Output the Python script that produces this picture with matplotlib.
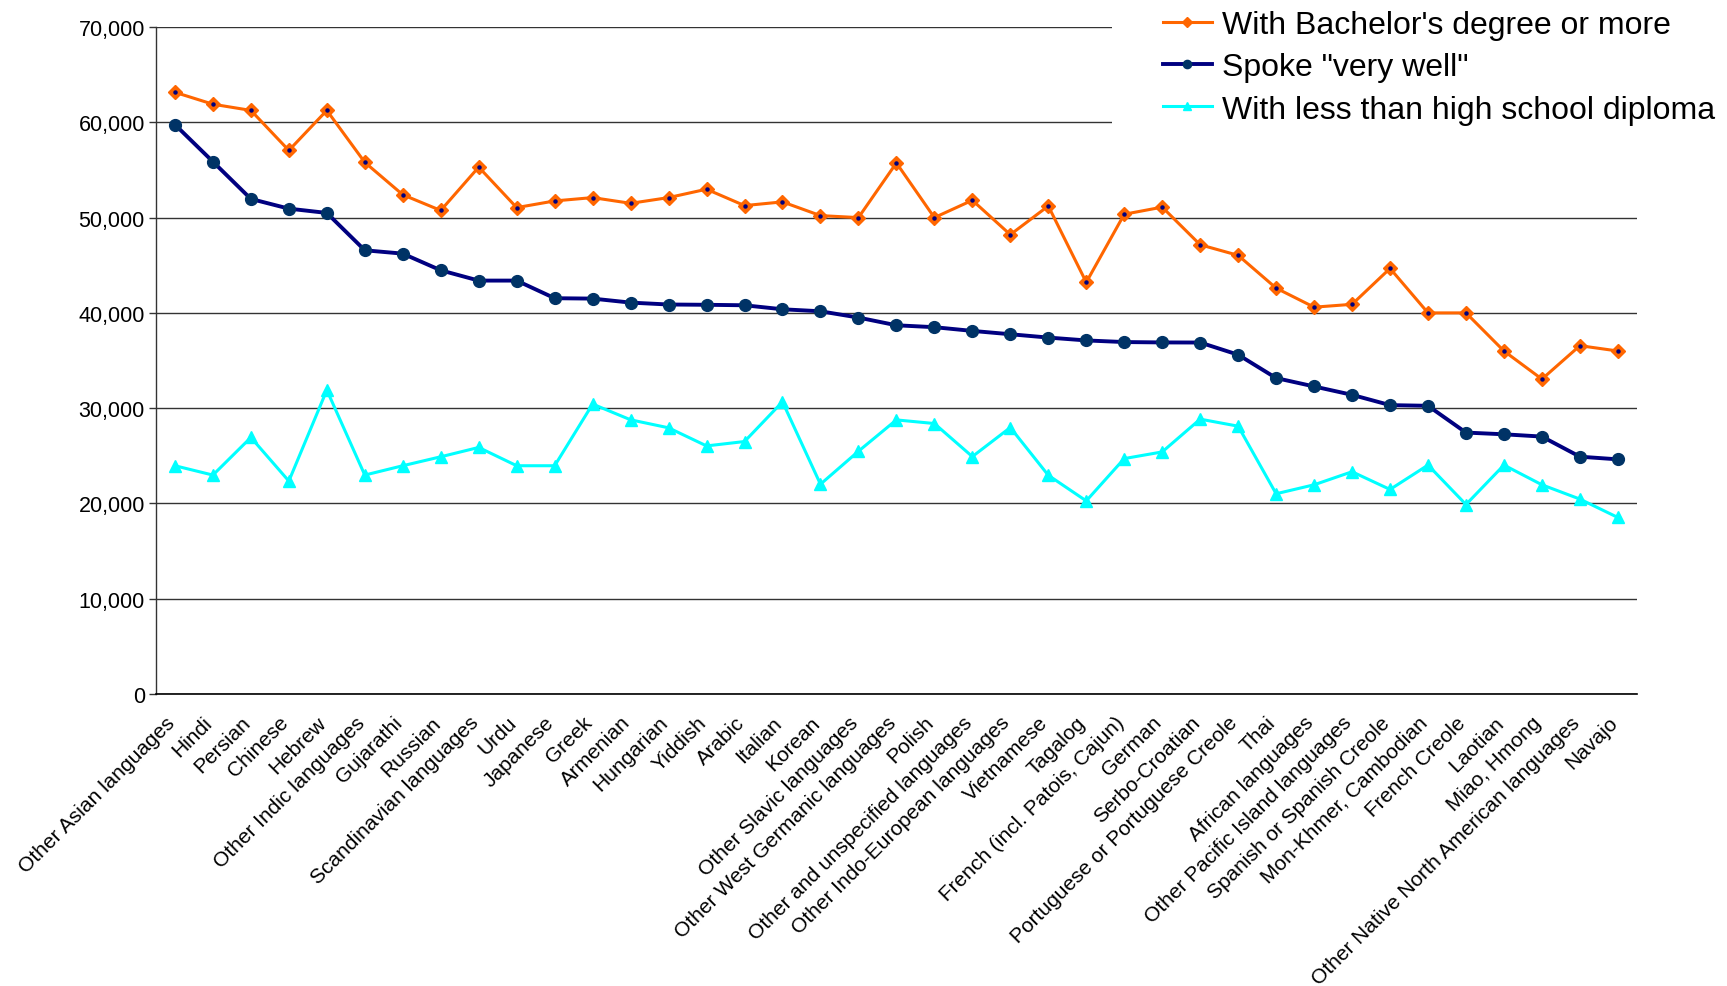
import matplotlib
matplotlib.use("Agg")
import matplotlib.pyplot as plt
from matplotlib.patches import Rectangle
from matplotlib.ticker import FuncFormatter, MultipleLocator
from matplotlib.transforms import ScaledTranslation

plt.rcParams['font.family'] = ['Liberation Sans', 'DejaVu Sans']

languages = [
    "Other Asian languages", "Hindi", "Persian", "Chinese", "Hebrew",
    "Other Indic languages", "Gujarathi", "Russian", "Scandinavian languages",
    "Urdu", "Japanese", "Greek", "Armenian", "Hungarian", "Yiddish", "Arabic",
    "Italian", "Korean", "Other Slavic languages",
    "Other West Germanic languages", "Polish",
    "Other and unspecified languages", "Other Indo-European languages",
    "Vietnamese", "Tagalog", "French (incl. Patois, Cajun)", "German",
    "Serbo-Croatian", "Portuguese or Portuguese Creole", "Thai",
    "African languages", "Other Pacific Island languages",
    "Spanish or Spanish Creole", "Mon-Khmer, Cambodian", "French Creole",
    "Laotian", "Miao, Hmong", "Other Native North American languages", "Navajo",
]

bachelors = [
    63150, 61900, 61250, 57050, 61250, 55800, 52400, 50750, 55300, 51050,
    51750, 52100, 51500, 52100, 52980, 51260, 51650, 50210, 50000, 55740,
    50000, 51820, 48210, 51220, 43210, 50350, 51100, 47150, 46040, 42600,
    40600, 40900, 44670, 40000, 40000, 36000, 33050, 36560, 36000,
]

spoke_very_well = [
    59760, 55870, 51960, 50940, 50490, 46570, 46220, 44470, 43390, 43390,
    41540, 41500, 41080, 40880, 40850, 40800, 40380, 40170, 39510, 38700,
    38500, 38110, 37760, 37410, 37110, 36940, 36900, 36890, 35610, 33160,
    32280, 31400, 30320, 30250, 27440, 27260, 27020, 24910, 24630,
]

less_than_hs = [
    23960, 22980, 26930, 22350, 31900, 22980, 23960, 24900, 25880, 23960,
    23960, 30430, 28780, 27940, 26040, 26500, 30670, 22020, 25480, 28770,
    28390, 24920, 27970, 22960, 20270, 24710, 25410, 28850, 28110, 21020,
    21960, 23330, 21470, 24030, 19890, 24030, 21960, 20460, 18530,
]

series_labels = [
    "With Bachelor's degree or more",
    'Spoke "very well"',
    "With less than high school diploma",
]

fig = plt.figure(figsize=(17.27, 9.87), dpi=100)
ax = fig.add_axes([0.0903, 0.2958, 0.8575, 0.6758])

x = list(range(len(languages)))

l1, = ax.plot(x, bachelors, color="#FF6600", lw=2.2, marker="D", ms=7,
              mfc="#FF6600", mec="#FF6600", zorder=5)
ax.plot(x, bachelors, ls="none", marker="o", ms=2.2, mfc="#000080",
        mec="#000080", zorder=6)
l2, = ax.plot(x, spoke_very_well, color="#000080", lw=2.8, marker="o", ms=8.5,
              mfc="#003366", mec="#003366", zorder=4)
l3, = ax.plot(x, less_than_hs, color="#00FFFF", lw=2.2, marker="^", ms=9,
              mfc="#00FFFF", mec="#00FFFF", zorder=3)

ax.set_xlim(-0.5, len(languages) - 0.5)
ax.set_ylim(0, 70000)
ax.yaxis.set_major_locator(MultipleLocator(10000))
ax.yaxis.set_major_formatter(FuncFormatter(lambda v, p: f"{int(v):,}"))
ax.grid(axis="y", color="#333333", lw=1.0)
ax.set_axisbelow(True)

for s in ("top", "right"):
    ax.spines[s].set_visible(False)
ax.spines["left"].set_color("#333333")
ax.spines["bottom"].set_color("#000000")
ax.spines["left"].set_linewidth(1.0)
ax.spines["bottom"].set_linewidth(1.2)

ax.set_xticks(x)
ax.set_xticklabels(languages, rotation=45, ha="right", rotation_mode="anchor",
                   fontsize=15.0)
ax.tick_params(axis="x", length=0, pad=14)
ax.tick_params(axis="y", labelsize=15.5, length=5, width=1, color="#333333",
               direction="out", pad=3)

shift = ScaledTranslation(-0.10, 0.01, fig.dpi_scale_trans)
for lab in ax.get_xticklabels():
    lab.set_transform(lab.get_transform() + shift)

# white panel behind the legend in the upper right corner
fig.patches.append(Rectangle((0.644, 0.866), 0.356, 0.134,
                             transform=fig.transFigure, facecolor="white",
                             edgecolor="none", zorder=1))

fig.legend([l1, l2, l3], series_labels, loc="upper left",
           bbox_to_anchor=(0.6732, 0.9885), frameon=False, fontsize=23,
           handlelength=1.55, handletextpad=0.3, labelspacing=0.38,
           borderaxespad=0, borderpad=0, markerscale=0.7)

fig.savefig("out.png", dpi=100)
